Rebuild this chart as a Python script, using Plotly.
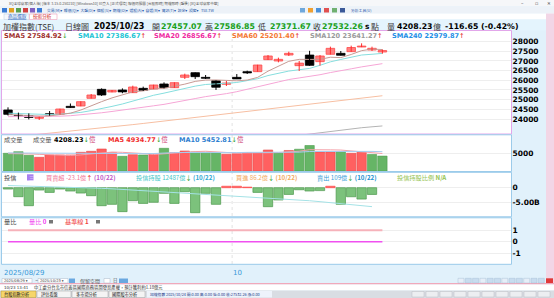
import plotly.graph_objects as go

W, H = 554, 298

# ---------------- data ----------------
dates = ["2025/08/29",
         "2025/09/01", "2025/09/02", "2025/09/03", "2025/09/04", "2025/09/05",
         "2025/09/08", "2025/09/09", "2025/09/10", "2025/09/11", "2025/09/12",
         "2025/09/15", "2025/09/16", "2025/09/17", "2025/09/18", "2025/09/19",
         "2025/09/22", "2025/09/23", "2025/09/24", "2025/09/25", "2025/09/26",
         "2025/09/30",
         "2025/10/01", "2025/10/02", "2025/10/03",
         "2025/10/07", "2025/10/08", "2025/10/09",
         "2025/10/13", "2025/10/14", "2025/10/15", "2025/10/16", "2025/10/17",
         "2025/10/20", "2025/10/21", "2025/10/22", "2025/10/23"]

opens = [24465, 24190, 24170, 24034, 24275, 24241, 24654, 24671, 25067, 25531,
         25394, 25497, 25359, 25583, 25548, 25806, 25617, 26151, 26391, 26150,
         25980, 25789, 26150, 26443, 26443, 27062, 26994, 27303, 26753, 27300,
         26960, 27340, 27389, 27475, 27716, 27561, 27457.07]
highs = [24602, 24330, 24290, 24120, 24410, 24530, 24800, 24910, 25290, 25580,
         25495, 25580, 25720, 25670, 25770, 25890, 25890, 26340, 26400, 26270,
         25990, 25960, 26320, 26495, 26800, 27300, 27166, 27475, 26994, 27520,
         27300, 27733, 27510, 27785, 27905, 27733, 27586.85]
lows = [24180, 23980, 23980, 23950, 24170, 24230, 24580, 24660, 25060, 25190,
        25380, 25330, 25350, 25445, 25540, 25580, 25610, 26065, 26065, 26065,
        25500, 25703, 26060, 26323, 26440, 27050, 26925, 27252, 26480, 26750,
        26760, 27330, 27280, 27470, 27710, 27510, 27371.67]
closes = [24241, 24160, 24080, 24103, 24210, 24516, 24590, 24895, 25239, 25240,
          25480, 25400, 25652, 25480, 25755, 25620, 25875, 26271, 26185, 26100,
          25640, 25858, 26070, 26380, 26787, 27252, 27080, 27389, 26885, 26770,
          27252, 27647, 27290, 27690, 27763, 27649, 27532.26]

sma5 = [24230, 24200, 24170, 24150, 24159, 24214, 24300, 24463, 24690, 24896,
        25089, 25251, 25402, 25450, 25553, 25581, 25676, 25800, 25941, 26010,
        26014, 26011, 25971, 26010, 26147, 26469, 26714, 26978, 27079, 27075,
        27075, 27189, 27169, 27330, 27528, 27608, 27584.92]
sma10 = [24300, 24280, 24260, 24245, 24229, 24251, 24280, 24340, 24433, 24527,
         24651, 24775, 24933, 25070, 25225, 25335, 25464, 25601, 25696, 25782,
         25798, 25844, 25885, 25975, 26079, 26242, 26362, 26474, 26544, 26611,
         26772, 26951, 27073, 27204, 27302, 27342, 27386.67]
sma20 = [24121, 24124, 24122, 24121, 24126, 24146, 24170, 24209, 24265, 24321,
         24389, 24454, 24531, 24599, 24681, 24756, 24844, 24952, 25055, 25155,
         25225, 25309, 25409, 25523, 25652, 25788, 25913, 26038, 26120, 26196,
         26285, 26397, 26479, 26590, 26690, 26792, 26856.67]
sma60 = [23050, 23102, 23155, 23208, 23262, 23318, 23372, 23428, 23485, 23540,
         23597, 23653, 23710, 23770, 23831, 23892, 23954, 24018, 24080, 24140,
         24198, 24258, 24320, 24383, 24447, 24512, 24575, 24640, 24700, 24758,
         24820, 24885, 24945, 25005, 25070, 25137, 25201.40]
sma120 = [None, None, None, None, None, None, None, None, None, None,
          None, None, None, None, None, None, None, None, None, None,
          None, None, None, None, None, 22960, 23030, 23095, 23160, 23215,
          23285, 23355, 23425, 23490, 23550, 23597, 23641.27]

volume = [5000, 5452, 4435, 3870, 4520, 4520, 4520, 5282, 5565, 6215,
          5170, 4153, 4605, 4520, 4802, 6413, 5170, 5650, 5367, 5282,
          5170, 4718, 4887, 5170, 5085, 5932, 5000, 5800, 6150, 7200,
          5350, 5400, 5500, 5000, 5300, 4665, 4208.23]
vol_ma5 = [4900, 4950, 4850, 4700, 4655, 4559, 4373, 4542, 4881, 5220,
           5350, 5277, 5142, 4933, 4650, 4899, 5102, 5311, 5480, 5576,
           5328, 5237, 5085, 5045, 5006, 5158, 5215, 5397, 5593, 6016,
           5900, 5980, 5920, 5690, 5310, 5173, 4934.77]
vol_ma10 = [5100, 5080, 5050, 5000, 4950, 4900, 4880, 4900, 4920, 4938,
            4955, 4825, 4842, 4907, 4935, 5125, 5190, 5226, 5207, 5113,
            5113, 5170, 5198, 5263, 5291, 5243, 5226, 5241, 5319, 5511,
            5529, 5597, 5659, 5642, 5663, 5537, 5452.81]

# 投信買賣超 (億), last day not yet published
trust_net = [-4.6, -30.8, -61.6, -8.0, -16.0, -4.6, -11.4, -18.3, -27.4, -61.6,
             -57.0, -82.0, -44.5, -53.7, -50.0, -19.4, -53.7, -13.7, -85.6, -19.4,
             -57.0, 5.0, 5.0, 2.0, -16.0, -65.0, -42.0, -23.0, -7.0, -11.4,
             -10.0, 5.0, -57.0, -31.0, -39.0, -23.1, None]
# 投信持股 (億)
trust_hold = [13390, 13380, 13370, 13360, 13350, 13335, 13320, 13305, 13290, 13270,
              13250, 13225, 13200, 13175, 13150, 13110, 13090, 13070, 13020, 13000,
              12970, 12950, 12930, 12905, 12880, 12860, 12835, 12800, 12770, 12740,
              12700, 12660, 12620, 12580, 12540, 12487, None]

vol_ratio_level = 0
baseline_level = 1

price_ticks = [24000, 24500, 25000, 25500, 26000, 26500, 27000, 27500, 28000]
price_tick_text = ["24000", "24500", "25000", "25500", "26000", "26500", "27000", "27500", "28000"]
vol_ticks = [5000]
vol_tick_text = ["5000"]
trust_ticks = [0, -50]
trust_tick_text = ["0", "-5.00B"]
ratio_ticks = [1, 0, -1]
ratio_tick_text = ["1", "0", "-1"]

# ---------------- helpers ----------------
def yf(py):
    return 1 - py / H

def xf(px):
    return px / W

CJK = "Noto Sans CJK TC, DejaVu Sans"
LAT = "DejaVu Sans, Noto Sans CJK TC"

fig = go.Figure()

# ---------------- main price panel ----------------
ma_specs = [(sma120, "#b4b4b4"), (sma60, "#f7bfa2"), (sma20, "#f6a6d6"),
            (sma10, "#86dede"), (sma5, "#c79a94")]
for vals, col in ma_specs:
    fig.add_scatter(x=dates, y=vals, mode="lines", line=dict(color=col, width=1),
                    xaxis="x", yaxis="y", hoverinfo="skip")

for want_up, col in [(True, "#ff2a2a"), (False, "#000000")]:
    wx, wy = [], []
    for d, o, h, l, c in zip(dates, opens, highs, lows, closes):
        if (c >= o) == want_up:
            wx += [d, d, None]
            wy += [l, h, None]
    fig.add_scatter(x=wx, y=wy, mode="lines", line=dict(color=col, width=1),
                    xaxis="x", yaxis="y", hoverinfo="skip")

up = [c >= o for o, c in zip(opens, closes)]
fig.add_bar(x=dates, y=[abs(c - o) for o, c in zip(opens, closes)],
            base=[min(o, c) for o, c in zip(opens, closes)], width=0.82,
            marker=dict(color=["#ff8080" if u else "#000000" for u in up],
                        line=dict(color=["#ff4a4a" if u else "#000000" for u in up], width=0.8)),
            xaxis="x", yaxis="y", hoverinfo="skip")

# ---------------- volume panel ----------------
vol_up = [(closes[i] >= closes[i - 1]) if i > 0 else (closes[0] >= opens[0]) for i in range(len(closes))]
fig.add_bar(x=dates, y=volume, width=0.9,
            marker=dict(color=["#ff6060" if u else "#66b566" for u in vol_up],
                        line=dict(color=["#e84a4a" if u else "#4f9d4f" for u in vol_up], width=0.6)),
            xaxis="x", yaxis="y2", hoverinfo="skip")
fig.add_scatter(x=dates, y=vol_ma5, mode="lines", line=dict(color="#f4a0a8", width=1),
                xaxis="x", yaxis="y2", hoverinfo="skip")
fig.add_scatter(x=dates, y=vol_ma10, mode="lines", line=dict(color="#a6cdf0", width=1),
                xaxis="x", yaxis="y2", hoverinfo="skip")

# ---------------- 投信 panel ----------------
fig.add_bar(x=dates, y=trust_net, width=0.9,
            marker=dict(color=["#ff6a6a" if (v is not None and v > 0) else "#7cc27c" for v in trust_net],
                        line=dict(color=["#ff4a4a" if (v is not None and v > 0) else "#4d9a4d" for v in trust_net],
                                  width=0.7)),
            xaxis="x", yaxis="y3", hoverinfo="skip")
fig.add_scatter(x=dates, y=trust_hold, mode="lines", line=dict(color="#a4e2e6", width=1),
                xaxis="x", yaxis="y5", hoverinfo="skip")

# ---------------- 量比 panel ----------------
fig.add_scatter(x=[dates[0], dates[-1]], y=[baseline_level, baseline_level], mode="lines",
                line=dict(color="#f6b2ba", width=2), xaxis="x", yaxis="y4", hoverinfo="skip")
fig.add_scatter(x=[dates[0], dates[-1]], y=[vol_ratio_level, vol_ratio_level], mode="lines",
                line=dict(color="#f050f0", width=1.6), xaxis="x", yaxis="y4", hoverinfo="skip")

# ---------------- axes ----------------
x0 = -0.577
x1 = x0 + 509.5 / 10.4
tickfont = dict(family="DejaVu Sans", size=7.5, color="#000000", weight="bold")
common_y = dict(side="right", showline=False, ticks="", zeroline=False,
                gridcolor="#eeeeee", gridwidth=1, tickfont=tickfont, anchor="x", fixedrange=True)

fig.update_layout(
    width=W, height=H, margin=dict(l=0, r=0, t=0, b=0),
    paper_bgcolor="#e1f1fb", plot_bgcolor="#ffffff",
    showlegend=False, barmode="overlay", hovermode=False,
    xaxis=dict(type="category", categoryorder="array", categoryarray=dates,
               range=[x0, x1], domain=[xf(2), xf(511.5)], visible=False,
               anchor="y", fixedrange=True),
    yaxis=dict(domain=[yf(134), yf(31)], range=[23226, 28542],
               tickvals=price_ticks, ticktext=price_tick_text, **common_y),
    yaxis2=dict(domain=[yf(171), yf(135)], range=[0, 10170],
                tickvals=vol_ticks, ticktext=vol_tick_text, **common_y),
    yaxis3=dict(domain=[yf(216.5), yf(172.5)], range=[-98.6, 52.05],
                tickvals=trust_ticks, ticktext=trust_tick_text, **common_y),
    yaxis4=dict(domain=[yf(264), yf(218)], range=[-1.906, 2.043],
                tickvals=ratio_ticks, ticktext=ratio_tick_text, **common_y),
    yaxis5=dict(overlaying="y3", range=[12066, 13947], visible=False, anchor="x",
                fixedrange=True),
)

# ---------------- chrome shapes ----------------
shapes = []

def rect(xa, ya, xb, yb, fill=None, line=None, lw=1, layer="below"):
    shapes.append(dict(type="rect", xref="paper", yref="paper",
                       x0=xf(xa), x1=xf(xb), y0=yf(yb), y1=yf(ya),
                       fillcolor=fill if fill else "rgba(0,0,0,0)",
                       line=dict(color=line if line else "rgba(0,0,0,0)", width=lw if line else 0),
                       layer=layer))

rect(0, 0, 554, 6.5, fill="#f6f7f9")
rect(0, 6.5, 554, 13.5, fill="#edf2f8")
rect(0, 13.5, 554, 19.5, fill="#ffffff")
rect(0, 19.5, 546, 30.5, fill="#e4f4fd")
rect(546, 13.5, 554, 283, fill="#f2d6e6")
rect(0, 283, 554, 284.5, fill="#f0a9bb")
rect(0, 284.5, 554, 290.5, fill="#ffffff")
rect(0, 290.5, 554, 298, fill="#d9dde3")
# tabs
rect(4, 14, 29, 19.5, fill="#f4f8fc", line="#c8d4e4", lw=0.6)
rect(29.5, 14, 57, 19.5, fill="#ffffff", line="#f0a0b8", lw=0.6)
# toolbar icons
for i, c in enumerate(["#3a7bd5", "#e0a020", "#5aa050", "#d04040", "#8060c0", "#3a7bd5"]):
    rect(2 + i * 7, 8, 7 + i * 7, 12.5, fill=c)
for i, c in enumerate(["#6fa8dc", "#f0a030", "#4a90d9", "#e05050", "#70b070", "#3b5998"]):
    rect(300 + i * 8, 8, 305 + i * 8, 12.5, fill=c)
# panel borders
rect(1.5, 30.5, 511.5, 134, line="#e2a6ea", lw=1, layer="above")
rect(1.5, 134.8, 511.5, 171.5, line="#9ccbea", lw=1, layer="above")
rect(1.5, 172.3, 511.5, 216.8, line="#9ccbea", lw=1, layer="above")
rect(1.5, 217.8, 511.5, 264.3, line="#9ccbea", lw=1, layer="above")
# bottom controls
rect(2, 278.5, 32, 283, fill="#ffffff", line="#a8b8c8", lw=0.5)
rect(38, 278.5, 68, 283, fill="#ffffff", line="#a8b8c8", lw=0.5)
rect(69, 278.5, 75, 283, fill="#6aa8e0")
rect(104, 278.5, 110, 283, fill="#ffffff", line="#a8b8c8", lw=0.5)
rect(119, 278.5, 128, 283, fill="#6aa8e0")
for i in range(12):
    rect(458 + i * 7.3, 278.3, 464 + i * 7.3, 283, fill="#c8dcef" if i % 3 else "#e6eef8",
         line="#9fb8d0", lw=0.4)
rect(546, 278.3, 553, 283, fill="#e03a3a")
# taskbar tabs
rect(1, 291, 36, 297.5, fill="#f6d66a", line="#b09030", lw=0.5)
rect(37, 291, 71, 297.5, fill="#f4f4f4", line="#a0a0a0", lw=0.5)
rect(72, 291, 108, 297.5, fill="#f4f4f4", line="#a0a0a0", lw=0.5)
rect(109, 291, 145, 297.5, fill="#f4f4f4", line="#a0a0a0", lw=0.5)
rect(147, 291, 272, 297.5, fill="#eef3fb")
for i in range(10):
    rect(412 + i * 14, 291.5, 424 + i * 14, 297, fill="#eceef1", line="#b0b4ba", lw=0.4)
# 投信 icon
rect(27, 174.3, 33.5, 180.5, fill="#a77ff0")
# 量比 icons
rect(49, 220, 53, 223.5, fill="#777777")
rect(96, 220, 100, 223.5, fill="#777777")

# month separator
shapes.append(dict(type="line", xref="x", yref="paper", x0=21.55, x1=21.55,
                   y0=yf(264), y1=yf(31), line=dict(color="#e2e2e2", width=1, dash="dot"),
                   layer="below"))
fig.update_layout(shapes=shapes)

# ---------------- text ----------------
ann = []

def txt(px, py, s, color="#333333", size=7, family=LAT):
    ann.append(dict(xref="paper", yref="paper", x=xf(px), y=yf(py), text=s,
                    showarrow=False, xanchor="left", yanchor="middle",
                    borderpad=0, font=dict(color=color, size=size, family=family)))

GREEN = "#19a019"
UP = "<span style='color:#e00000'>↑</span>"
DN = "<span style='color:#1a9a1a'>↓</span>"

# title bar / toolbar
txt(8, 3.2, "XQ全球贏家(個人版) [版本 3.15.0.250210] [Windows10] 已登入 [正式環境] 報價伺服器 [台股即時] 期權即時 (盤後) [XQ全球贏家中華]", "#555555", 3.6, CJK)
txt(520, 3.2, "–", "#555555", 5)
txt(534, 3.2, "▫", "#555555", 5)
txt(546, 3.2, "✕", "#555555", 4.5)
txt(46, 10.2, "交易(M)▾  報價(Q)▾  大盤(D)▾  個股(S)▾  期權(O)▾  選股(A)▾  自選(R)▾  資訊(T)▾  設定▾  視窗▾   TSE.TW", "#2456a8", 3.8, CJK)
txt(350, 10.2, "分析工具(U)", "#2456a8", 3.8, CJK)
txt(6.5, 16.8, "<u>商品選取</u>", "#2060c0", 4.6, CJK)
txt(31.5, 16.8, "技術分析", "#d02020", 4.6, CJK)

# header row
hy = 26.3
txt(2, hy, "加權指數(TSE)", "#3a3a3a", 8, CJK)
txt(64, hy, "日線圖", "#3a3a3a", 8, CJK)
txt(93, hy, "<b>2025/10/23</b>", "#000000", 8)
txt(151, hy, "開", "#3a3a3a", 8, CJK)
txt(160, hy, "<b>27457.07</b>", GREEN, 7.8)
txt(204, hy, "高", "#3a3a3a", 8, CJK)
txt(213, hy, "<b>27586.85</b>", GREEN, 7.8)
txt(257, hy, "低", "#3a3a3a", 8, CJK)
txt(269, hy, "<b>27371.67</b>", GREEN, 7.8)
txt(312, hy, "收", "#3a3a3a", 8, CJK)
txt(321, hy, "<b>27532.26</b>", GREEN, 7.8)
txt(364, hy, "<b>s</b>", "#000000", 7.5)
txt(370, hy, "點", "#3a3a3a", 8, CJK)
txt(386, hy, "量", "#3a3a3a", 8, CJK)
txt(396, hy, "<b>4208.23</b>", "#000000", 7.8)
txt(432, hy, "億", "#3a3a3a", 8, CJK)
txt(444, hy, "<b>-116.65 (-0.42%)</b>", "#000000", 7.8)

# SMA row
sy = 35.6
txt(2.5, sy, "<b>SMA5 27584.92</b>" + DN, "#a0302c", 6.6)
txt(77, sy, "<b>SMA10 27386.67</b>" + UP, "#22c4d4", 6.6)
txt(153, sy, "<b>SMA20 26856.67</b>" + UP, "#f02aa0", 6.6)
txt(231, sy, "<b>SMA60 25201.40</b>" + UP, "#f47832", 6.6)
txt(309, sy, "<b>SMA120 23641.27</b>" + UP, "#9a9a9a", 6.6)
txt(391, sy, "<b>SMA240 22979.87</b>" + UP, "#1e8fe6", 6.6)

# volume header
vy = 139.4
txt(2.5, vy, "成交量", "#555555", 6.2, CJK)
txt(32, vy, "成交量", "#555555", 6.2, CJK)
txt(53, vy, "<b>4208.23</b>" + DN + "<span style='color:#d04a7a'>億</span>", "#000000", 6.5)
txt(107, vy, "<b>MA5 4934.77</b>" + DN + "<span style='color:#d04a7a'>億</span>", "#f03030", 6.5)
txt(178, vy, "<b>MA10 5452.81</b>" + DN + "<span style='color:#d04a7a'>億</span>", "#2f7fd0", 6.5)

# 投信 header
ty = 177.4
txt(2.5, ty, "投信", "#444444", 6.2, CJK)
txt(28, ty, "三", "#ffffff", 5, CJK)
txt(45, ty, "買賣超 -23.1億" + UP + " <b><span style='color:#c05ac8'>(10/22)</span></b>", "#f27898", 6.2, CJK)
txt(135, ty, "投信持股 12487億" + DN + " <b><span style='color:#2fa8d2'>(10/22)</span></b>", "#44c8c8", 6.2, CJK)
txt(235, ty, "買進 86.2億" + DN + " <b>(10/22)</b>", "#f2aa62", 6.2, CJK)
txt(316, ty, "賣出 109億" + DN + " <b><span style='color:#2090d0'>(10/22)</span></b>", "#3aa0d8", 6.2, CJK)
txt(396, ty, "投信持股比例 <b>N/A</b>", "#92c24e", 6.2, CJK)

# 量比 header
ry = 221.8
txt(2.5, ry, "量比", "#444444", 6.2, CJK)
txt(28, ry, "量比 <b>0</b>", "#f040f0", 6.2, CJK)
txt(64, ry, "基準線 <b>1</b>", "#f03c3c", 6.2, CJK)

# bottom controls and news line
txt(3, 280.8, "2025/08/29 ▾", "#333333", 3.6)
txt(33.5, 280.8, "~", "#333333", 4)
txt(39, 280.8, "2025/10/23 ▾", "#333333", 3.6)
txt(79, 280.8, "保留空間", "#555555", 5, CJK)
txt(112, 280.8, "日", "#555555", 4.5, CJK)
txt(3, 287.5, "10/23 13:41", "#333333", 4)
txt(33, 287.5, "中工處分台北市信義區國際商務區開發案產權，預計獲利約1.18億元", "#333333", 4.3, CJK)
txt(3, 294.3, "台股指數分析", "#222222", 4.2, CJK)
txt(40, 294.3, "評估看盤", "#222222", 4.2, CJK)
txt(75, 294.3, "多市場分析", "#222222", 4.2, CJK)
txt(111, 294.3, "國際股市分析", "#222222", 4.2, CJK)
txt(149, 294.3, "加權指數 2025/10/24 開:0.00 高:0.00 低:0.00 收:27532.26 漲:0.00", "#1a3a8a", 3.8, CJK)

# date axis labels (positioned on the data axis)
ann.append(dict(xref="x", yref="paper", x=-0.47, y=yf(273.3), text="2025/08/29",
                showarrow=False, xanchor="left", yanchor="middle", borderpad=0,
                font=dict(color="#3a9ad9", size=7, family="DejaVu Sans")))
ann.append(dict(xref="x", yref="paper", x=21.5, y=yf(273.3), text="10",
                showarrow=False, xanchor="left", yanchor="middle", borderpad=0,
                font=dict(color="#3a9ad9", size=7, family="DejaVu Sans")))

fig.update_layout(annotations=ann)

fig.write_html("out.html")
